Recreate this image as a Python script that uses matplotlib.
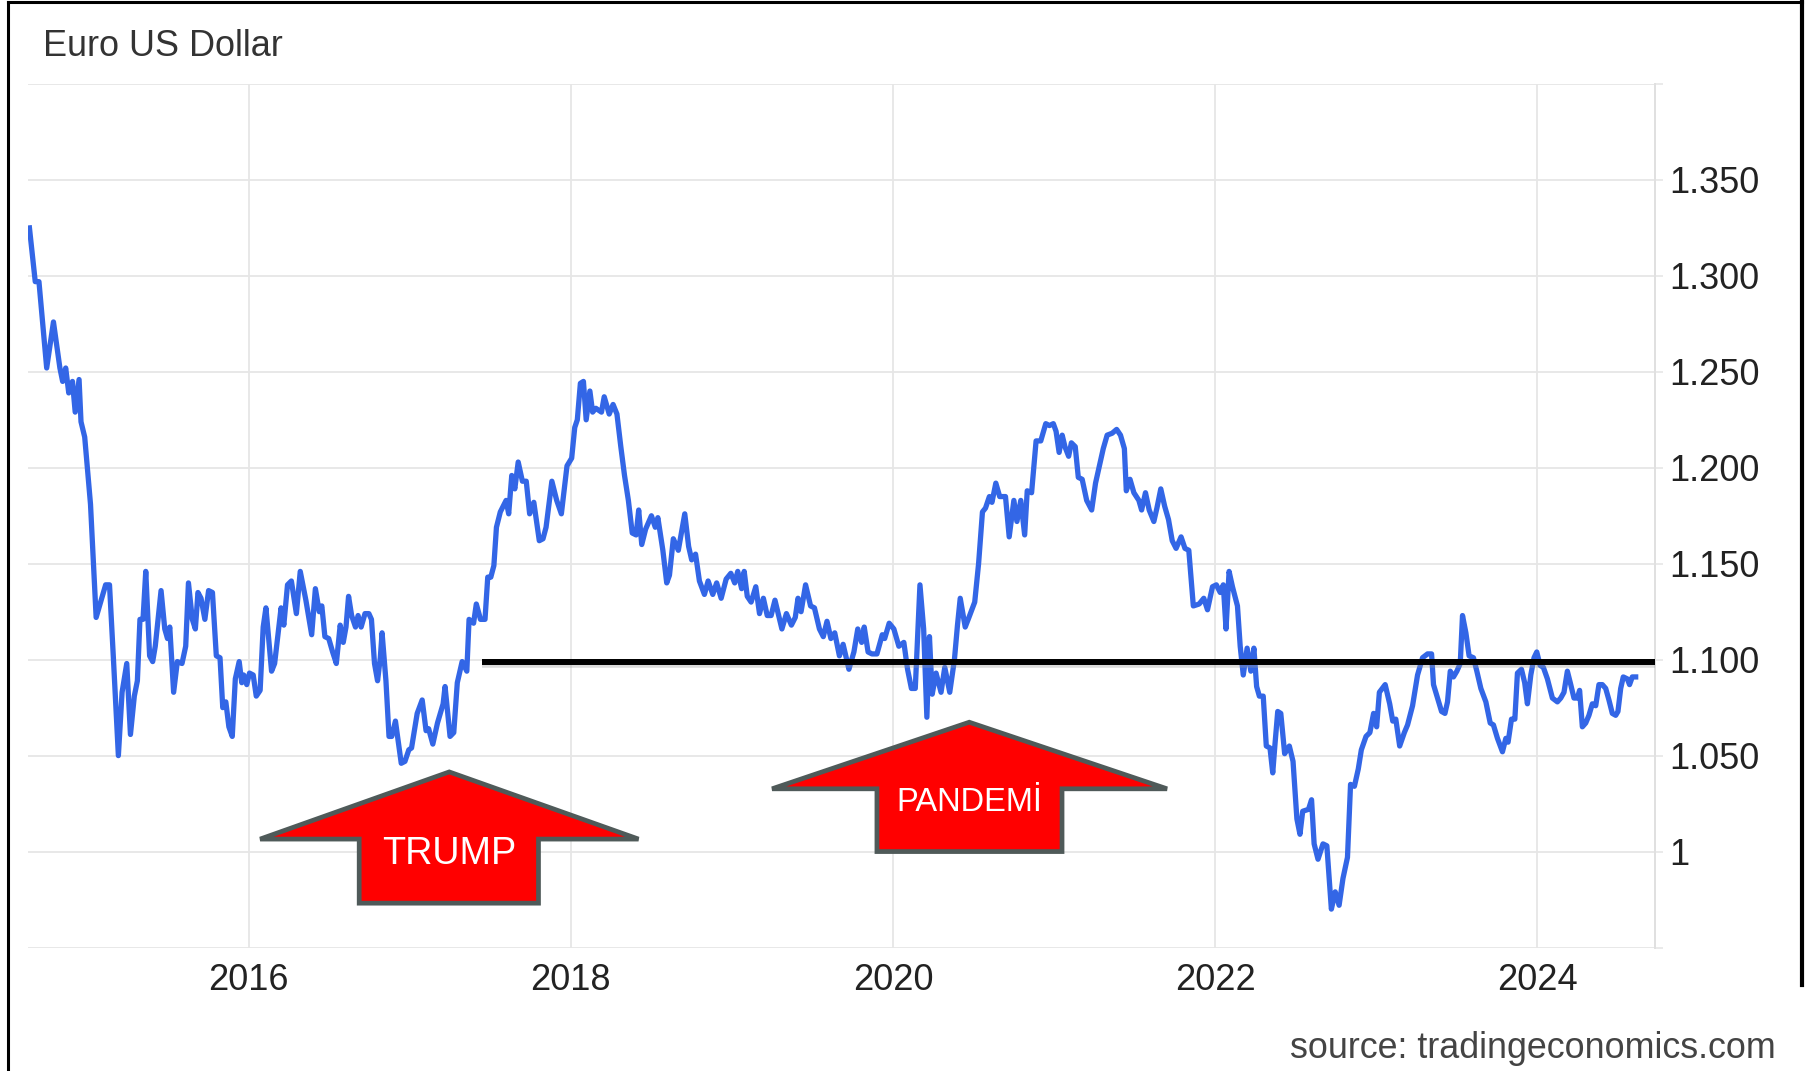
import matplotlib
matplotlib.use('Agg')
import matplotlib.pyplot as plt
from matplotlib.patches import Polygon
from matplotlib.lines import Line2D

plt.rcParams['font.family'] = ['Liberation Sans', 'DejaVu Sans']

# ---------------- data ----------------
dates = [
    2014.639, 2014.675, 2014.698, 2014.746, 2014.788, 2014.828, 2014.845, 2014.864, 2014.883, 2014.906,
    2014.923, 2014.947, 2014.959, 2014.982, 2015.018, 2015.053, 2015.077, 2015.112, 2015.136, 2015.160,
    2015.191, 2015.214, 2015.243, 2015.266, 2015.290, 2015.309, 2015.325, 2015.344, 2015.361, 2015.385,
    2015.404, 2015.420, 2015.456, 2015.479, 2015.496, 2015.510, 2015.534, 2015.557, 2015.586, 2015.609,
    2015.626, 2015.650, 2015.669, 2015.685, 2015.704, 2015.728, 2015.751, 2015.775, 2015.799, 2015.822,
    2015.839, 2015.858, 2015.877, 2015.898, 2015.917, 2015.941, 2015.957, 2015.969, 2015.988, 2016.005,
    2016.028, 2016.047, 2016.071, 2016.090, 2016.107, 2016.142, 2016.161, 2016.201, 2016.218, 2016.241,
    2016.265, 2016.296, 2016.320, 2016.355, 2016.391, 2016.414, 2016.438, 2016.454, 2016.473, 2016.497,
    2016.521, 2016.544, 2016.568, 2016.587, 2016.604, 2016.620, 2016.639, 2016.663, 2016.679, 2016.698,
    2016.722, 2016.746, 2016.762, 2016.781, 2016.800, 2016.817, 2016.828, 2016.852, 2016.871, 2016.888,
    2016.911, 2016.947, 2016.970, 2016.994, 2017.011, 2017.046, 2017.077, 2017.101, 2017.117, 2017.143,
    2017.172, 2017.207, 2017.219, 2017.250, 2017.273, 2017.295, 2017.325, 2017.354, 2017.368, 2017.396,
    2017.413, 2017.439, 2017.467, 2017.484, 2017.503, 2017.522, 2017.538, 2017.562, 2017.598, 2017.614,
    2017.633, 2017.652, 2017.673, 2017.699, 2017.723, 2017.744, 2017.770, 2017.804, 2017.827, 2017.846,
    2017.882, 2017.912, 2017.941, 2017.976, 2018.005, 2018.024, 2018.040, 2018.059, 2018.078, 2018.095,
    2018.118, 2018.135, 2018.155, 2018.190, 2018.207, 2018.238, 2018.262, 2018.286, 2018.310, 2018.333,
    2018.357, 2018.381, 2018.405, 2018.421, 2018.440, 2018.464, 2018.500, 2018.524, 2018.540, 2018.571,
    2018.595, 2018.612, 2018.636, 2018.667, 2018.707, 2018.731, 2018.750, 2018.774, 2018.798, 2018.829,
    2018.852, 2018.881, 2018.905, 2018.933, 2018.964, 2018.993, 2019.017, 2019.036, 2019.060, 2019.076,
    2019.095, 2019.119, 2019.148, 2019.171, 2019.195, 2019.219, 2019.243, 2019.267, 2019.310, 2019.338,
    2019.369, 2019.393, 2019.410, 2019.429, 2019.457, 2019.488, 2019.512, 2019.543, 2019.567, 2019.590,
    2019.614, 2019.638, 2019.667, 2019.690, 2019.726, 2019.757, 2019.781, 2019.805, 2019.821, 2019.845,
    2019.869, 2019.900, 2019.933, 2019.948, 2019.976, 2020.005, 2020.036, 2020.067, 2020.090, 2020.114,
    2020.138, 2020.167, 2020.190, 2020.210, 2020.226, 2020.243, 2020.267, 2020.298, 2020.321, 2020.352,
    2020.381, 2020.400, 2020.417, 2020.448, 2020.471, 2020.507, 2020.531, 2020.555, 2020.574, 2020.598,
    2020.614, 2020.638, 2020.662, 2020.698, 2020.721, 2020.750, 2020.769, 2020.793, 2020.817, 2020.833,
    2020.860, 2020.888, 2020.917, 2020.948, 2020.971, 2020.995, 2021.012, 2021.031, 2021.050, 2021.067,
    2021.090, 2021.107, 2021.131, 2021.150, 2021.174, 2021.202, 2021.233, 2021.257, 2021.281, 2021.305,
    2021.329, 2021.360, 2021.388, 2021.412, 2021.436, 2021.448, 2021.471, 2021.495, 2021.526, 2021.543,
    2021.567, 2021.590, 2021.619, 2021.638, 2021.662, 2021.686, 2021.710, 2021.733, 2021.757, 2021.788,
    2021.812, 2021.836, 2021.864, 2021.900, 2021.929, 2021.952, 2021.983, 2022.007, 2022.031, 2022.050,
    2022.067, 2022.086, 2022.107, 2022.138, 2022.155, 2022.174, 2022.198, 2022.221, 2022.240, 2022.257,
    2022.274, 2022.298, 2022.317, 2022.340, 2022.357, 2022.371, 2022.388, 2022.407, 2022.431, 2022.460,
    2022.483, 2022.507, 2022.526, 2022.543, 2022.579, 2022.598, 2022.614, 2022.638, 2022.669, 2022.693,
    2022.721, 2022.745, 2022.769, 2022.793, 2022.821, 2022.840, 2022.864, 2022.888, 2022.907, 2022.936,
    2022.960, 2022.983, 2023.002, 2023.019, 2023.055, 2023.083, 2023.102, 2023.121, 2023.145, 2023.174,
    2023.194, 2023.225, 2023.256, 2023.287, 2023.318, 2023.343, 2023.355, 2023.380, 2023.405, 2023.426,
    2023.442, 2023.459, 2023.479, 2023.500, 2023.521, 2023.535, 2023.556, 2023.576, 2023.603, 2023.624,
    2023.649, 2023.680, 2023.707, 2023.727, 2023.752, 2023.783, 2023.804, 2023.818, 2023.839, 2023.860,
    2023.876, 2023.901, 2023.921, 2023.938, 2023.959, 2023.979, 2023.996, 2024.017, 2024.037, 2024.062,
    2024.093, 2024.124, 2024.145, 2024.165, 2024.186, 2024.207, 2024.227, 2024.248, 2024.262, 2024.279,
    2024.300, 2024.320, 2024.341, 2024.362, 2024.382, 2024.403, 2024.424, 2024.444, 2024.465, 2024.486,
    2024.500, 2024.517, 2024.533, 2024.558, 2024.572, 2024.589, 2024.610,
]
eurusd = [
    1.325, 1.297, 1.297, 1.252, 1.276, 1.252, 1.245, 1.252, 1.239, 1.245,
    1.229, 1.246, 1.224, 1.216, 1.181, 1.122, 1.129, 1.139, 1.139, 1.101,
    1.050, 1.083, 1.098, 1.061, 1.081, 1.089, 1.121, 1.121, 1.146, 1.102,
    1.099, 1.107, 1.136, 1.116, 1.111, 1.117, 1.083, 1.099, 1.098, 1.107,
    1.140, 1.121, 1.116, 1.135, 1.132, 1.121, 1.136, 1.135, 1.102, 1.101,
    1.075, 1.078, 1.065, 1.060, 1.090, 1.099, 1.088, 1.092, 1.087, 1.093,
    1.092, 1.081, 1.084, 1.117, 1.127, 1.094, 1.098, 1.127, 1.118, 1.139,
    1.141, 1.124, 1.146, 1.131, 1.113, 1.137, 1.125, 1.128, 1.112, 1.111,
    1.104, 1.098, 1.118, 1.109, 1.117, 1.133, 1.123, 1.117, 1.123, 1.117,
    1.124, 1.124, 1.121, 1.098, 1.089, 1.101, 1.114, 1.089, 1.060, 1.060,
    1.068, 1.046, 1.047, 1.053, 1.054, 1.072, 1.079, 1.063, 1.064, 1.056,
    1.067, 1.077, 1.086, 1.060, 1.062, 1.088, 1.099, 1.094, 1.121, 1.119,
    1.129, 1.121, 1.121, 1.143, 1.143, 1.149, 1.169, 1.177, 1.183, 1.176,
    1.196, 1.189, 1.203, 1.193, 1.193, 1.176, 1.182, 1.162, 1.163, 1.169,
    1.193, 1.183, 1.176, 1.201, 1.205, 1.221, 1.225, 1.244, 1.245, 1.225,
    1.240, 1.229, 1.231, 1.229, 1.237, 1.228, 1.233, 1.228, 1.211, 1.196,
    1.183, 1.166, 1.165, 1.178, 1.160, 1.168, 1.175, 1.169, 1.174, 1.157,
    1.140, 1.144, 1.163, 1.157, 1.176, 1.159, 1.152, 1.155, 1.141, 1.134,
    1.141, 1.134, 1.140, 1.132, 1.142, 1.145, 1.140, 1.146, 1.137, 1.146,
    1.133, 1.130, 1.138, 1.124, 1.132, 1.123, 1.123, 1.131, 1.116, 1.124,
    1.118, 1.122, 1.132, 1.125, 1.139, 1.128, 1.127, 1.116, 1.112, 1.120,
    1.111, 1.114, 1.102, 1.108, 1.095, 1.104, 1.116, 1.109, 1.117, 1.104,
    1.103, 1.103, 1.113, 1.111, 1.119, 1.116, 1.107, 1.109, 1.095, 1.085,
    1.085, 1.139, 1.116, 1.070, 1.112, 1.082, 1.093, 1.083, 1.096, 1.083,
    1.100, 1.118, 1.132, 1.117, 1.122, 1.130, 1.150, 1.177, 1.179, 1.185,
    1.182, 1.192, 1.185, 1.185, 1.164, 1.183, 1.172, 1.183, 1.165, 1.188,
    1.187, 1.214, 1.214, 1.223, 1.222, 1.223, 1.219, 1.208, 1.217, 1.211,
    1.206, 1.213, 1.211, 1.195, 1.194, 1.183, 1.178, 1.192, 1.201, 1.210,
    1.217, 1.218, 1.220, 1.217, 1.210, 1.188, 1.194, 1.187, 1.183, 1.178,
    1.187, 1.178, 1.172, 1.179, 1.189, 1.180, 1.173, 1.162, 1.158, 1.164,
    1.158, 1.157, 1.128, 1.129, 1.132, 1.126, 1.138, 1.139, 1.135, 1.139,
    1.116, 1.146, 1.138, 1.128, 1.107, 1.092, 1.106, 1.094, 1.106, 1.086,
    1.081, 1.081, 1.055, 1.054, 1.041, 1.056, 1.073, 1.072, 1.051, 1.055,
    1.047, 1.017, 1.009, 1.021, 1.022, 1.027, 1.004, 0.996, 1.004, 1.003,
    0.970, 0.979, 0.972, 0.986, 0.997, 1.035, 1.034, 1.043, 1.053, 1.060,
    1.062, 1.072, 1.065, 1.083, 1.087, 1.077, 1.068, 1.069, 1.055, 1.062,
    1.066, 1.076, 1.092, 1.101, 1.103, 1.103, 1.087, 1.080, 1.073, 1.072,
    1.078, 1.094, 1.091, 1.094, 1.098, 1.123, 1.114, 1.102, 1.101, 1.094,
    1.085, 1.078, 1.067, 1.066, 1.059, 1.052, 1.059, 1.057, 1.069, 1.069,
    1.093, 1.095, 1.088, 1.077, 1.092, 1.101, 1.104, 1.097, 1.096, 1.090,
    1.080, 1.078, 1.080, 1.083, 1.094, 1.087, 1.080, 1.080, 1.084, 1.065,
    1.067, 1.071, 1.077, 1.076, 1.087, 1.087, 1.085, 1.079, 1.072, 1.071,
    1.073, 1.085, 1.091, 1.090, 1.087, 1.091, 1.091,
]

x_ticks = [2016, 2018, 2020, 2022, 2024]
x_tick_labels = ['2016', '2018', '2020', '2022', '2024']
y_ticks = [0.95, 1.00, 1.05, 1.10, 1.15, 1.20, 1.25, 1.30, 1.35, 1.40]
y_tick_labels = ['', '1', '1.050', '1.100', '1.150', '1.200', '1.250', '1.300', '1.350', '']

title_text = 'Euro US Dollar'
source_text = 'source: tradingeconomics.com'

# reference line (annotation)
ref_level = 1.099
ref_start = 2017.45

# arrow annotations: (label, tip_x, tip_y, wing_left, wing_right, wing_y, shaft_left, shaft_right, bottom_y, text_y, fontsize)
arrows = [
    ('TRUMP', 2017.245, 1.0415, 2016.071, 2018.420, 1.0065, 2016.686, 2017.799, 0.9731, 0.9985, 27.2),
    ('PANDEMİ', 2020.473, 1.0674, 2019.249, 2021.701, 1.0327, 2019.900, 2021.049, 1.0000, 1.0255, 23.5),
]

# ---------------- figure ----------------
W, H = 1812, 1071
fig = plt.figure(figsize=(W / 100, H / 100), dpi=100)
fig.patch.set_facecolor('white')

ax_left, ax_right, ax_top, ax_bottom = 28, 1655, 84, 947.5
ax = fig.add_axes([ax_left / W, 1 - ax_bottom / H, (ax_right - ax_left) / W, (ax_bottom - ax_top) / H])

ax.set_xlim(2014.63, 2024.73)
ax.set_ylim(0.95, 1.40)

grid_color = '#e6e6e6'
ax.set_yticks(y_ticks)
ax.set_yticklabels(y_tick_labels)
ax.set_xticks(x_ticks)
ax.set_xticklabels(x_tick_labels)
ax.yaxis.tick_right()
ax.grid(True, color=grid_color, lw=1.3, zorder=0)
ax.tick_params(axis='y', which='both', length=6, width=1.2, color=grid_color, pad=4,
               labelsize=26, labelcolor='#222222')
ax.tick_params(axis='x', which='both', length=0, pad=11, labelsize=26, labelcolor='#222222')
for s in ['top', 'left', 'bottom']:
    ax.spines[s].set_visible(False)
ax.spines['right'].set_color('#e0e0e0')
ax.spines['right'].set_linewidth(1.4)

# data line
ax.plot(dates, eurusd, color='#3366e6', lw=3.8, solid_joinstyle='round', zorder=3)

# horizontal reference line with a faint shadow
ax.plot([ref_start, 2024.73], [ref_level - 0.0018, ref_level - 0.0018], color='#999999',
        alpha=0.35, lw=4.0, solid_capstyle='butt', zorder=4, clip_on=False)
ax.plot([ref_start, 2024.73], [ref_level, ref_level], color='black', lw=4.3,
        solid_capstyle='butt', zorder=5, clip_on=False)

# arrows
for (label, tx, ty, wl, wr, wy, sl, sr, by, texty, fs) in arrows:
    pts = [(tx, ty), (wr, wy), (sr, wy), (sr, by), (sl, by), (sl, wy), (wl, wy)]
    poly = Polygon(pts, closed=True, facecolor='#ff0000', edgecolor='#4f5a59', lw=3.4,
                   joinstyle='miter', zorder=6, clip_on=False)
    ax.add_patch(poly)
    ax.text((sl + sr) / 2, texty, label, color='white', fontsize=fs, ha='center', va='center', zorder=7)

# title and source
fig.text(43 / W, 1 - 46 / H, title_text, fontsize=25.9, color='#333333', ha='left', va='center')
fig.text(1776 / W, 1 - 1048.5 / H, source_text, fontsize=25.8, color='#444444', ha='right', va='center')

# outer black frame (left, top, right)
fig.add_artist(Line2D([8 / W, 8 / W], [0, 1 - 1.5 / H], color='black', lw=2.2, transform=fig.transFigure))
fig.add_artist(Line2D([8 / W, 1801.5 / W], [1 - 1.5 / H, 1 - 1.5 / H], color='black', lw=2.2, transform=fig.transFigure))
fig.add_artist(Line2D([1801.5 / W, 1801.5 / W], [1 - 1.5 / H, 1 - 985 / H], color='black', lw=3.0, transform=fig.transFigure))

fig.savefig('out.png', dpi=100, facecolor='white')
